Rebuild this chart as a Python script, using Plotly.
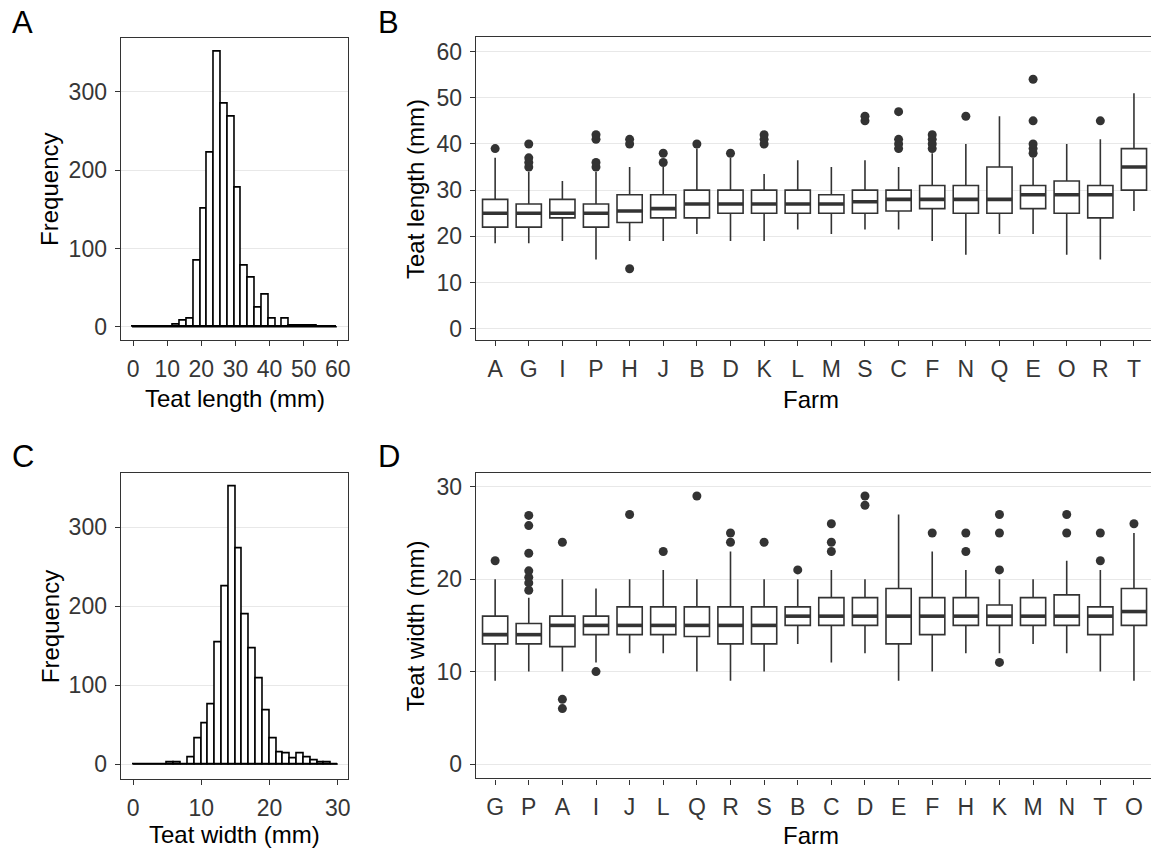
import plotly.graph_objects as go

# ---------------- DATA ----------------
# Panel A: histogram of teat length (bin left edges, width 2 mm)
len_bin_left = [-0.3, 1.7, 3.7, 5.7, 7.7, 9.7, 11.7, 13.7, 15.7, 17.7,
                19.7, 21.7, 23.7, 25.7, 27.7, 29.7, 31.7, 33.7, 35.7, 37.7,
                39.7, 41.7, 43.7, 45.7, 47.7, 49.7, 51.7, 53.7, 55.7, 57.7]
len_bin_width = 2.0
len_counts = [0, 0, 0, 0, 0, 0, 3, 8, 10, 84,
              151, 222, 351, 285, 268, 177, 78, 63, 25, 41,
              10, 0, 10, 1, 1, 1, 1, 0, 0, 0]

# Panel C: histogram of teat width (bin left edges, width 1 mm)
wid_bin_left = [0, 1, 2, 3, 4, 5, 6, 7, 8, 9,
                10, 11, 12, 13, 14, 15, 16, 17, 18, 19,
                20, 21, 22, 23, 24, 25, 26, 27, 28, 29]
wid_bin_width = 1.0
wid_counts = [0, 0, 0, 0, 0, 2, 2, 0, 8, 33,
              51, 76, 154, 225, 351, 273, 190, 146, 109, 68,
              33, 15, 13, 7, 13, 8, 5, 2, 2, 0]

# Panel B: teat length by farm
len_farms = ["A", "G", "I", "P", "H", "J", "B", "D", "K", "L",
             "M", "S", "C", "F", "N", "Q", "E", "O", "R", "T"]
len_lower = [18.5, 18.5, 19, 15, 19, 19, 20.5, 19, 19, 21.5,
             20.5, 21.5, 21.5, 19, 16, 20.5, 20.5, 16, 15, 25.5]
len_q1 = [22, 22, 24, 22, 23, 24, 24, 25, 25, 25,
          25, 25, 25.5, 26, 25, 25, 26, 25, 24, 30]
len_median = [25, 25, 25, 25, 25.5, 26, 27, 27, 27, 27,
              27, 27.5, 28, 28, 28, 28, 29, 29, 29, 35]
len_q3 = [28, 27, 28, 27, 29, 29, 30, 30, 30, 30,
          29, 30, 30, 31, 31, 35, 31, 32, 31, 39]
len_upper = [37, 34, 32, 34, 35, 35, 39, 37, 33.5, 36.5,
             35, 36.5, 35, 38, 40, 46, 37, 40, 41, 51]
len_outliers = [[39], [35, 36, 37, 40], [], [35, 36, 41, 42], [13, 40, 41],
                [36, 38], [40], [38], [40, 41, 42], [],
                [], [45, 46], [39, 40, 41, 47], [39, 40, 41, 42], [46],
                [], [38, 39, 40, 45, 54], [], [45], []]

# Panel D: teat width by farm
wid_farms = ["G", "P", "A", "I", "J", "L", "Q", "R", "S", "B",
             "C", "D", "E", "F", "H", "K", "M", "N", "T", "O"]
wid_lower = [9, 10, 10, 11, 12, 12, 10, 9, 10, 13,
             11, 12, 9, 10, 12, 12, 13, 12, 10, 9]
wid_q1 = [13, 13, 12.7, 14, 14, 14, 13.8, 13, 13, 15,
          15, 15, 13, 14, 15, 15, 15, 15, 14, 15]
wid_median = [14, 14, 15, 15, 15, 15, 15, 15, 15, 16,
              16, 16, 16, 16, 16, 16, 16, 16, 16, 16.5]
wid_q3 = [16, 15.2, 16, 16, 17, 17, 17, 17, 17, 17,
          18, 18, 19, 18, 18, 17.2, 18, 18.3, 17, 19]
wid_upper = [20, 18, 20, 19, 20, 21, 20, 23, 20, 20,
             21, 20, 27, 23, 21, 20, 20, 22, 21, 25]
wid_outliers = [[22], [18.8, 19.6, 20.2, 20.9, 22.8, 25.8, 26.9], [24, 7, 6], [10], [27],
                [23], [29], [24, 25], [24], [21],
                [23, 24, 26], [28, 29], [], [25], [23, 25],
                [11, 21, 25, 27], [], [25, 27], [22, 25], [26]]

# ---------------- STYLE ----------------
W, H = 1153, 850
FONT = "Liberation Sans, Arial, sans-serif"
TICK_COL = "#363636"
LINE_COL = "#333333"
GRID_COL = "#E8E8E8"
BOX_W = 0.75


def xdom(a, b):
    return [a / W, min(b / W, 1.0)]


def ydom(top, bottom):
    return [1 - bottom / H, 1 - top / H]


fig = go.Figure()


def add_hist(left, width, counts, xa, ya):
    centers = [l + width / 2 for l in left]
    fig.add_trace(go.Bar(x=centers, y=counts, width=width, xaxis=xa, yaxis=ya,
                         marker=dict(color="white", line=dict(color="black", width=1.6)),
                         showlegend=False, hoverinfo="skip"))
    # outline of empty bins along the baseline
    fig.add_trace(go.Scatter(x=[left[0], left[-1] + width], y=[0, 0], mode="lines",
                             xaxis=xa, yaxis=ya, line=dict(color="black", width=1.6),
                             showlegend=False, hoverinfo="skip"))


def add_boxes(lower, q1, med, q3, upper, outliers, xa, ya):
    idx = list(range(len(med)))
    fig.add_trace(go.Box(x=idx, lowerfence=lower, q1=q1, median=med, q3=q3, upperfence=upper,
                         xaxis=xa, yaxis=ya, width=BOX_W, whiskerwidth=0,
                         fillcolor="white", line=dict(color=LINE_COL, width=1.6),
                         boxpoints=False, showlegend=False, hoverinfo="skip"))
    mx, my = [], []
    for i, m in zip(idx, med):
        mx += [i - BOX_W / 2, i + BOX_W / 2, None]
        my += [m, m, None]
    fig.add_trace(go.Scatter(x=mx, y=my, mode="lines", xaxis=xa, yaxis=ya,
                             line=dict(color=LINE_COL, width=3.6),
                             showlegend=False, hoverinfo="skip"))
    ox, oy = [], []
    for i, outs in zip(idx, outliers):
        for v in outs:
            ox.append(i)
            oy.append(v)
    fig.add_trace(go.Scatter(x=ox, y=oy, mode="markers", xaxis=xa, yaxis=ya,
                             marker=dict(color=LINE_COL, size=9),
                             showlegend=False, hoverinfo="skip"))


add_hist(len_bin_left, len_bin_width, len_counts, "x", "y")
add_boxes(len_lower, len_q1, len_median, len_q3, len_upper, len_outliers, "x2", "y2")
add_hist(wid_bin_left, wid_bin_width, wid_counts, "x3", "y3")
add_boxes(wid_lower, wid_q1, wid_median, wid_q3, wid_upper, wid_outliers, "x4", "y4")

axis_common = dict(showline=True, linecolor=LINE_COL, linewidth=1.4,
                   ticks="outside", ticklen=5, tickwidth=1.3, tickcolor=LINE_COL,
                   tickfont=dict(family=FONT, size=23, color=TICK_COL),
                   zeroline=False, ticklabelstandoff=3)

# panel geometry in pixels
A_box = (121, 349, 37.7, 340.7)
B_box = (476.7, 1153, 37.3, 340.7)
C_box = (121, 349, 474, 780)
D_box = (476.7, 1153, 474, 779.3)

fig.update_layout(
    width=W, height=H, margin=dict(l=0, r=0, t=0, b=0),
    paper_bgcolor="white", plot_bgcolor="white", bargap=0,
    xaxis=dict(domain=xdom(A_box[0], A_box[1]), anchor="y", range=[-3.6, 63.1], mirror=True,
               tickvals=[0, 10, 20, 30, 40, 50, 60], showgrid=False, **axis_common),
    yaxis=dict(domain=ydom(A_box[2], A_box[3]), anchor="x", range=[-17.2, 369], mirror=True,
               tickvals=[0, 100, 200, 300], showgrid=True, gridcolor=GRID_COL, gridwidth=1.2,
               **axis_common),
    xaxis2=dict(domain=xdom(B_box[0], B_box[1]), anchor="y2", range=[-0.573, 19.507],
                mirror=True,
                tickvals=list(range(len(len_farms))), ticktext=len_farms, showgrid=False,
                **axis_common),
    yaxis2=dict(domain=ydom(B_box[2], B_box[3]), anchor="x2", range=[-2.5, 63.1], mirror=False,
                tickvals=[0, 10, 20, 30, 40, 50, 60], showgrid=True, gridcolor=GRID_COL,
                gridwidth=1.2, **axis_common),
    xaxis3=dict(domain=xdom(C_box[0], C_box[1]), anchor="y3", range=[-1.8, 31.55], mirror=True,
                tickvals=[0, 10, 20, 30], showgrid=False, **axis_common),
    yaxis3=dict(domain=ydom(C_box[2], C_box[3]), anchor="x3", range=[-19, 368], mirror=True,
                tickvals=[0, 100, 200, 300], showgrid=True, gridcolor=GRID_COL, gridwidth=1.2,
                **axis_common),
    xaxis4=dict(domain=xdom(D_box[0], D_box[1]), anchor="y4", range=[-0.573, 19.507],
                mirror=True,
                tickvals=list(range(len(wid_farms))), ticktext=wid_farms, showgrid=False,
                **axis_common),
    yaxis4=dict(domain=ydom(D_box[2], D_box[3]), anchor="x4", range=[-1.55, 31.44], mirror=False,
                tickvals=[0, 10, 20, 30], showgrid=True, gridcolor=GRID_COL, gridwidth=1.2,
                **axis_common),
)


def ann(text, x, y, size, rot=0, xanchor="center", yanchor="middle"):
    fig.add_annotation(text=text, x=x / W, y=1 - y / H, xref="paper", yref="paper",
                       showarrow=False, textangle=rot, xanchor=xanchor, yanchor=yanchor,
                       font=dict(family=FONT, size=size, color="black"))


TITLE = 24
# axis titles
ann("Frequency", 50, (A_box[2] + A_box[3]) / 2, TITLE, rot=-90)
ann("Teat length (mm)", (A_box[0] + A_box[1]) / 2, 399, TITLE)
ann("Teat length (mm)", 417, (B_box[2] + B_box[3]) / 2, TITLE, rot=-90)
ann("Farm", 812, 400, TITLE)
ann("Frequency", 50, (C_box[2] + C_box[3]) / 2, TITLE, rot=-90)
ann("Teat width (mm)", (C_box[0] + C_box[1]) / 2, 835, TITLE)
ann("Teat width (mm)", 417, (D_box[2] + D_box[3]) / 2, TITLE, rot=-90)
ann("Farm", 812, 836, TITLE)

# panel letters
ann("A", 10, 23, 31, xanchor="left")
ann("B", 377, 23, 31, xanchor="left")
ann("C", 10, 457, 31, xanchor="left")
ann("D", 377, 457, 31, xanchor="left")

fig.write_html("out.html")
